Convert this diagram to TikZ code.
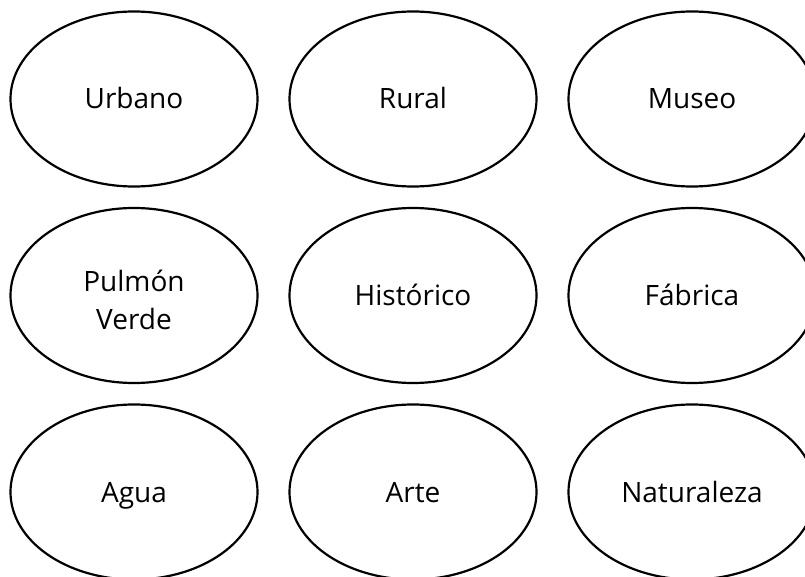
\documentclass[tikz,border=0pt]{standalone}
\usepackage{fontspec}
\setmainfont{Open Sans}
\usetikzlibrary{shapes.geometric}
\begin{document}
\begin{tikzpicture}[x=1bp,y=-1bp,
  oval/.style={draw=black, line width=2.2bp, ellipse, minimum width=247bp, minimum height=175bp, inner sep=0pt, align=center, text height=20bp, text depth=0pt, font=\fontsize{28bp}{38bp}\selectfont}]
\useasboundingbox (0,0) rectangle (805,577);
\clip (0,0) rectangle (805,577);
\node[oval] (urbano) at (134,99) {Urbano};
\node[oval] (rural) at (413,99) {Rural};
\node[oval] (museo) at (692,99) {Museo};
\node[oval, text height=67bp] (pulmon) at (134,295.5) {Pulmón\\Verde};
\node[oval] (historico) at (413,295.5) {Histórico};
\node[oval] (fabrica) at (692,295.5) {Fábrica};
\node[oval] (agua) at (134,492) {Agua};
\node[oval] (arte) at (413,492) {Arte};
\node[oval] (naturaleza) at (692,492) {Naturaleza};
\end{tikzpicture}
\end{document}
